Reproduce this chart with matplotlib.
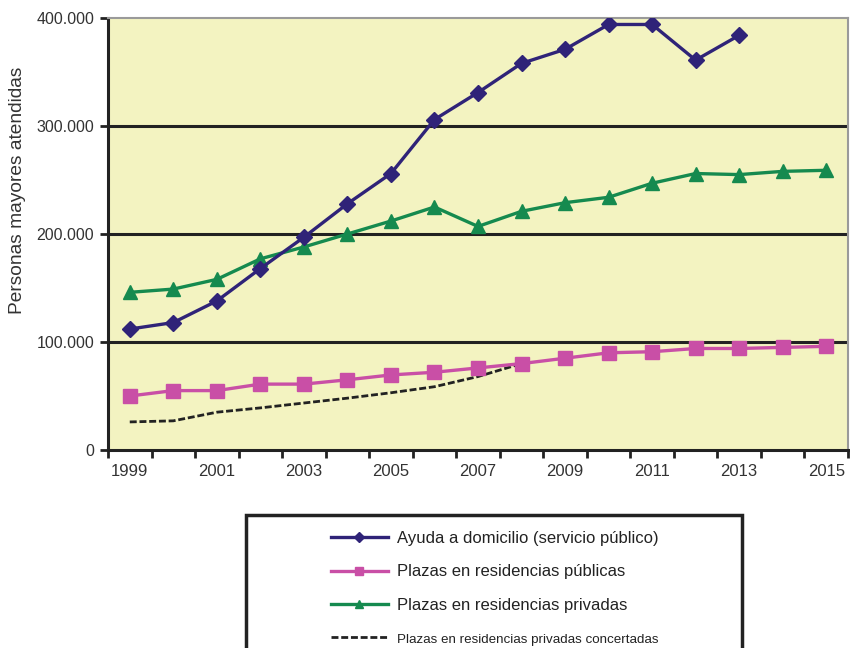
import matplotlib.pyplot as plt
from matplotlib.patches import Rectangle
from matplotlib.ticker import FuncFormatter

plt.rcParams['font.family'] = ['Liberation Sans', 'DejaVu Sans']

# datos
anios = list(range(1999, 2016))
ayuda = [112000, 118000, 138000, 168000, 197000, 228000, 256000, 306000, 331000,
         358000, 371000, 394000, 394000, 361000, 384000]
publicas = [50000, 55000, 55000, 61000, 61000, 65000, 69500, 72000, 76000,
            80000, 85000, 90000, 91000, 94000, 94000, 95000, 96000]
privadas = [146000, 149000, 158000, 177000, 188000, 200000, 212000, 225000, 207000,
            221000, 229000, 234000, 247000, 256000, 255000, 258000, 259000]
concertadas = [26000, 27000, 35000, 39000, 43500, 48000, 53000, 58600, 68000, 80000]

nombres = ["Ayuda a domicilio (servicio público)",
           "Plazas en residencias públicas",
           "Plazas en residencias privadas",
           "Plazas en residencias privadas concertadas"]

fig = plt.figure(figsize=(8.5, 6.48), dpi=100)
ax = fig.add_axes([108 / 850, 1 - 450 / 648, 740 / 850, 432 / 648])
ax.set_facecolor('#f3f3c1')

ax.plot(anios[:len(ayuda)], ayuda, color='#2f2378', lw=2.4, marker='D',
        markersize=8, label=nombres[0], zorder=5)
ax.plot(anios, publicas, color='#c94fa6', lw=2.4, marker='s',
        markersize=10, label=nombres[1], zorder=4)
ax.plot(anios, privadas, color='#158a4f', lw=2.4, marker='^',
        markersize=10, label=nombres[2], zorder=4)
ax.plot(anios[:len(concertadas)], concertadas, color='#222222', lw=2,
        ls=(0, (2.5, 1)), label=nombres[3], zorder=3)

ax.set_ylim(0, 400000)
ax.set_xlim(1998.5, 2015.5)
ax.set_yticks([0, 100000, 200000, 300000, 400000])
ax.yaxis.set_major_formatter(FuncFormatter(lambda v, p: f"{int(v):,}".replace(",", ".")))
for v in [100000, 200000, 300000]:
    ax.axhline(v, color='#222222', lw=2.2, zorder=2)

ax.set_xticks([a + 0.5 for a in range(1998, 2016)])
ax.set_xticklabels([])
ax.set_xticks(list(range(1999, 2016, 2)), minor=True)
ax.set_xticklabels([str(a) for a in range(1999, 2016, 2)], minor=True)
ax.tick_params(axis='x', which='minor', length=0, pad=10, labelsize=12, labelcolor='#333333')
ax.tick_params(axis='x', which='major', length=6, width=2, color='#222222')
ax.tick_params(axis='y', length=6, width=2, color='#222222', labelsize=11.5,
               labelcolor='#333333', pad=4)

for s in ['left', 'bottom']:
    ax.spines[s].set_linewidth(2.2)
    ax.spines[s].set_color('#222222')
for s in ['top', 'right']:
    ax.spines[s].set_linewidth(1.5)
    ax.spines[s].set_color('#9a9a9a')

fig.text(18 / 850, 1 - 190 / 648, "Personas mayores atendidas", rotation=90,
         ha='center', va='center', fontsize=13.8, color='#333333')

# recuadro de la leyenda
fig.patches.append(Rectangle((246 / 850, -0.05), 496 / 850, 0.05 + (648 - 515) / 648,
                             transform=fig.transFigure, fill=False,
                             edgecolor='#222222', lw=2.5))

h, l = ax.get_legend_handles_labels()
leg = fig.legend(h, l, loc='upper left', bbox_to_anchor=(316 / 850, 1 - 516 / 648),
                 frameon=False, fontsize=12, handlelength=3.4, labelspacing=1.1,
                 handletextpad=0.55, markerscale=0.6)
for t in leg.get_texts():
    t.set_color('#222222')
leg.get_texts()[3].set_fontsize(9.6)

fig.savefig("out.png", dpi=100)
